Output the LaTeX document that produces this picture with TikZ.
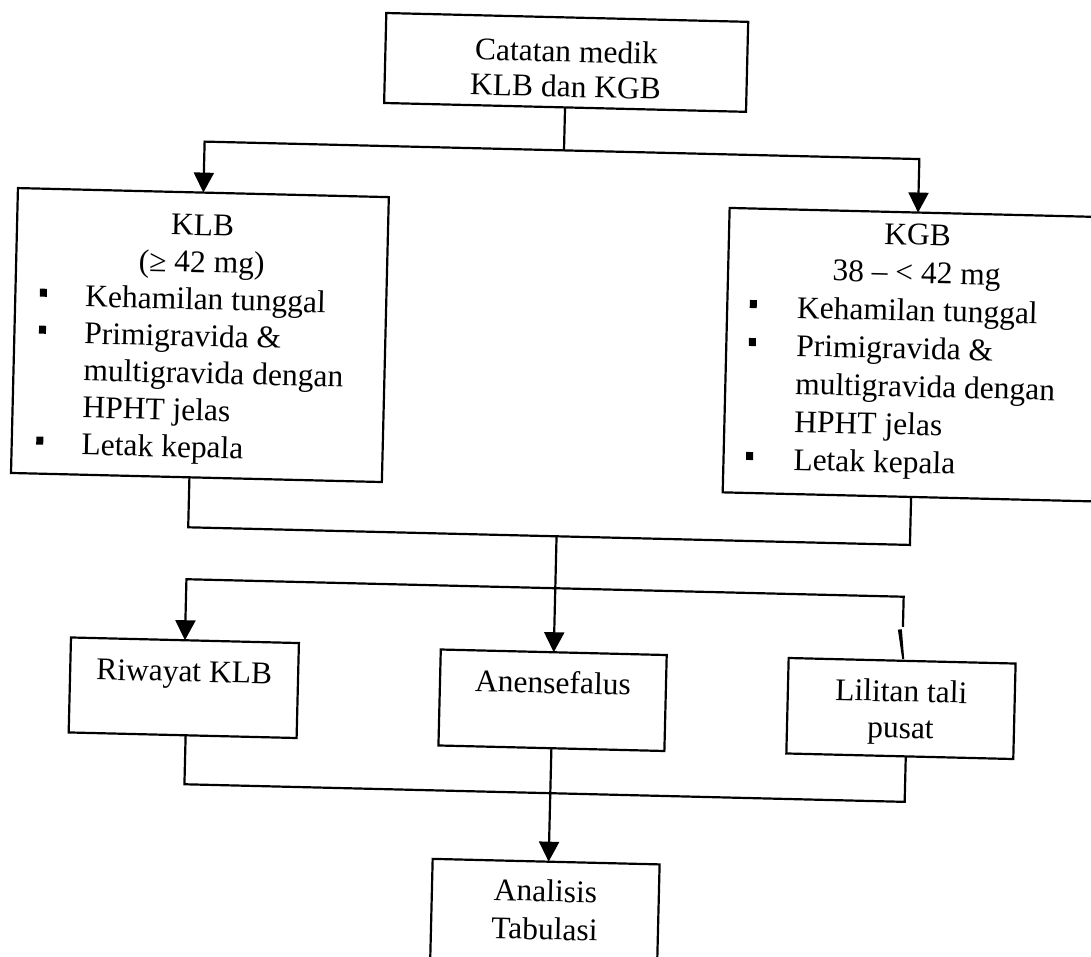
\documentclass[tikz,border=0pt]{standalone}
\usepackage{fontspec}
\setmainfont{Liberation Serif}
\usetikzlibrary{arrows.meta,calc}
% #1 width, #2 height, #3 first baseline from top, #4 line spacing, #5 content
\newcommand\bt[5]{\parbox[c][#2][t]{#1}{\fontsize{31.5pt}{#4}\selectfont\setlength\parskip{0pt}\vspace*{\dimexpr#3-#4*7/10\relax}#5}}
\newcommand\bul[1]{\makebox[70pt][l]{\hspace{#1}\rule[9pt]{7pt}{8pt}}}
\begin{document}
\begin{tikzpicture}[x=1pt,y=-1pt,line width=2.2pt,
  box/.style={draw,inner sep=0pt,outer sep=0pt,anchor=north west},
  arr/.style={-{Triangle[length=20pt,width=20pt]}}]
\fill[white] (0,0) rectangle (1091,956);
\path[use as bounding box] (0,0) rectangle (1091,956);
\clip (0,0) rectangle (1091,956);
\begin{scope}[rotate around={-1.4:(545,478)},transform shape]
\node[box] (top) at (375,17) {\bt{362pt}{90pt}{44.5pt}{35pt}{\centering\strut Catatan medik\\KLB dan KGB}};
\node[box] (klb) at (11,201) {\bt{371pt}{285pt}{43pt}{37pt}{\centering\strut KLB\\(≥ 42 mg)\par\raggedright
  \bul{24.5pt}Kehamilan tunggal\\
  \bul{24.5pt}Primigravida \&\\
  \hspace*{70pt}multigravida dengan\\
  \hspace*{70pt}HPHT jelas\\
  \bul{24.5pt}Letak kepala}};
\node[box] (kgb) at (723,203.5) {\bt{377pt}{284.5pt}{32.5pt}{38pt}{\centering\strut KGB\\38 – < 42 mg\par\raggedright
  \bul{22.5pt}Kehamilan tunggal\\
  \bul{22.5pt}Primigravida \&\\
  \hspace*{70pt}multigravida dengan\\
  \hspace*{70pt}HPHT jelas\\
  \bul{22.5pt}Letak kepala}};
\node[box] (riw) at (75,649) {\bt{228pt}{95pt}{41.5pt}{37pt}{\centering\strut Riwayat KLB}};
\node[box] (ane) at (445,652) {\bt{226pt}{96pt}{41pt}{37pt}{\centering\strut Anensefalus}};
\node[box] (lil) at (793,652) {\bt{227pt}{95.5pt}{41pt}{36.5pt}{\centering\strut Lilitan tali\\pusat}};
\node[box] (ana) at (442,861.5) {\bt{227pt}{130pt}{40pt}{38pt}{\centering\strut Analisis\\Tabulasi}};
% connectors
\draw (top.south) -- ++(0,43) coordinate (j1);
\draw[arr] (j1) -| (klb.north);
\draw[arr] (j1) -| (kgb.north);
\draw ([xshift=-7pt]klb.south) -- ++(0,50) coordinate (ml) -| (kgb.south);
\coordinate (m1) at (ml -| ane.north);
\draw[arr] (m1) -- (ane.north);
\coordinate (s2) at ($(m1)+(0,52)$);
\draw[arr] (s2) -| (riw.north);
\draw (s2) -| ($(lil.north)+(0,-34)$);
\fill ($(lil.north)+(-5,-31)$) -- ($(lil.north)+(-1,-31.5)$) -- ($(lil.north)+(2,-2)$) -- ($(lil.north)+(0,-2)$) -- cycle;
\draw ([xshift=3pt]riw.south) -- ++(0,49) -| ([xshift=6pt]lil.south);
\draw[arr] (ane.south) -- (ane.south |- ana.north);
\end{scope}
\end{tikzpicture}
\end{document}
